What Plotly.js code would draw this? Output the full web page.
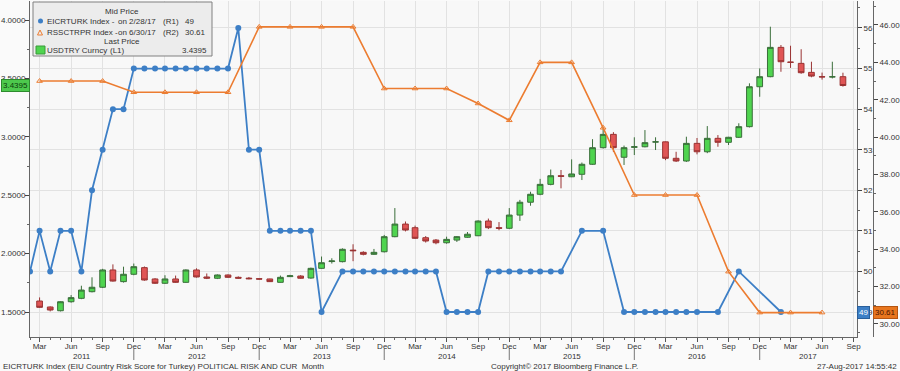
<!DOCTYPE html>
<html><head><meta charset="utf-8">
<script src="https://cdn.plot.ly/plotly-3.0.1.min.js"></script>
<style>html,body{margin:0;padding:0;background:#fafafa;overflow:hidden}</style>
</head><body><div id="chart" style="width:900px;height:371px"></div>
<script>
// ---- USDTRY Curncy monthly candles (L1) ----
const candleMonths = [
 '2011-03','2011-04','2011-05','2011-06','2011-07','2011-08','2011-09','2011-10','2011-11','2011-12',
 '2012-01','2012-02','2012-03','2012-04','2012-05','2012-06','2012-07','2012-08','2012-09','2012-10','2012-11','2012-12',
 '2013-01','2013-02','2013-03','2013-04','2013-05','2013-06','2013-07','2013-08','2013-09','2013-10','2013-11','2013-12',
 '2014-01','2014-02','2014-03','2014-04','2014-05','2014-06','2014-07','2014-08','2014-09','2014-10','2014-11','2014-12',
 '2015-01','2015-02','2015-03','2015-04','2015-05','2015-06','2015-07','2015-08','2015-09','2015-10','2015-11','2015-12',
 '2016-01','2016-02','2016-03','2016-04','2016-05','2016-06','2016-07','2016-08','2016-09','2016-10','2016-11','2016-12',
 '2017-01','2017-02','2017-03','2017-04','2017-05','2017-06','2017-07','2017-08'];
const usdOpen = [
 1.594,1.543,1.511,1.588,1.617,1.674,1.712,1.860,1.760,1.823,
 1.880,1.783,1.746,1.783,1.754,1.860,1.800,1.789,1.817,1.797,1.790,1.785,
 1.783,1.754,1.803,1.808,1.791,1.874,1.932,1.931,2.030,2.011,1.994,2.016,
 2.145,2.253,2.222,2.136,2.116,2.093,2.116,2.140,2.153,2.279,2.222,2.217,
 2.330,2.440,2.508,2.593,2.667,2.658,2.679,2.765,2.907,3.021,2.825,2.910,
 2.915,2.955,2.957,2.816,2.793,2.944,2.872,2.987,2.953,2.996,3.087,3.429,
 3.515,3.766,3.640,3.629,3.552,3.515,3.513,3.515];
const usdHigh = [
 1.625,1.548,1.592,1.645,1.725,1.797,1.870,1.908,1.888,1.915,
 1.890,1.790,1.815,1.812,1.865,1.874,1.830,1.822,1.822,1.805,1.800,1.790,
 1.785,1.812,1.818,1.815,1.880,1.975,1.960,2.045,2.080,2.020,2.040,2.160,
 2.390,2.275,2.240,2.150,2.125,2.145,2.150,2.185,2.285,2.300,2.270,2.390,
 2.460,2.530,2.640,2.720,2.716,2.807,2.780,2.980,3.081,3.040,2.925,2.996,
 3.058,2.996,2.960,2.872,3.001,2.990,3.092,3.015,3.000,3.116,3.458,3.586,
 3.943,3.786,3.780,3.750,3.643,3.550,3.643,3.549];
const usdLow = [
 1.535,1.505,1.505,1.580,1.610,1.668,1.705,1.760,1.752,1.815,
 1.768,1.740,1.740,1.750,1.750,1.795,1.782,1.782,1.792,1.785,1.780,1.776,
 1.757,1.752,1.800,1.785,1.785,1.870,1.915,1.925,1.935,1.985,1.990,2.010,
 2.140,2.190,2.125,2.095,2.080,2.085,2.100,2.135,2.150,2.210,2.200,2.210,
 2.280,2.410,2.500,2.585,2.559,2.655,2.630,2.760,2.900,2.870,2.759,2.844,
 2.910,2.887,2.800,2.785,2.785,2.850,2.860,2.915,2.930,2.990,3.080,3.343,
 3.510,3.557,3.590,3.540,3.510,3.490,3.500,3.430];
const usdClose = [
 1.540,1.517,1.588,1.623,1.688,1.712,1.860,1.765,1.823,1.888,
 1.774,1.746,1.783,1.754,1.860,1.800,1.790,1.817,1.797,1.790,1.785,1.782,
 1.760,1.797,1.810,1.789,1.874,1.922,1.937,2.037,2.025,1.994,2.011,2.145,
 2.253,2.202,2.131,2.108,2.093,2.122,2.145,2.166,2.279,2.222,2.217,2.330,
 2.440,2.508,2.593,2.667,2.662,2.682,2.765,2.907,3.021,2.907,2.907,2.915,
 2.950,2.957,2.816,2.793,2.944,2.872,2.987,2.953,2.996,3.087,3.429,3.515,
 3.766,3.643,3.638,3.549,3.520,3.513,3.514,3.4395];

// ---- EICRTURK Index (R1) ----
const eiuMonths = [
 '2011-02','2011-03','2011-04','2011-05','2011-06','2011-07','2011-08','2011-09','2011-10','2011-11','2011-12',
 '2012-01','2012-02','2012-03','2012-04','2012-05','2012-06','2012-07','2012-08','2012-09','2012-10','2012-11','2012-12',
 '2013-01','2013-02','2013-03','2013-04','2013-05','2013-06','2013-08','2013-09','2013-10','2013-11','2013-12',
 '2014-01','2014-02','2014-03','2014-04','2014-05','2014-06','2014-07','2014-08','2014-09','2014-10','2014-11','2014-12',
 '2015-01','2015-02','2015-03','2015-04','2015-05','2015-07','2015-09','2015-11','2015-12',
 '2016-01','2016-02','2016-03','2016-04','2016-05','2016-06','2016-08','2016-10','2017-02'];
const eiuScore = [
 50,51,50,51,51,50,52,53,54,54,55,
 55,55,55,55,55,55,55,55,55,56,53,53,
 51,51,51,51,51,49,50,50,50,50,50,
 50,50,50,50,50,49,49,49,49,50,50,50,
 50,50,50,50,50,51,51,49,49,
 49,49,49,49,49,49,49,50,49];

// ---- RSSCTRPR Index (R2), quarterly ----
const rssQuarters = [
 '2011-03','2011-06','2011-09','2011-12','2012-03','2012-06','2012-09','2012-12',
 '2013-03','2013-06','2013-09','2013-12','2014-03','2014-06','2014-09','2014-12',
 '2015-03','2015-06','2015-09','2015-12','2016-03','2016-06','2016-09','2016-12',
 '2017-03','2017-06'];
const rssValue = [
 43.0,43.0,43.0,42.4,42.4,42.4,42.4,45.9,
 45.9,45.9,45.9,42.6,42.6,42.6,41.8,40.9,
 44.0,44.0,40.5,36.9,36.9,36.9,32.8,30.61,
 30.61,30.61];

// ---- axis text ----
const yearSeps = ['2011-12','2012-12','2013-12','2014-12','2015-12','2016-12'];
const yearLabels = ['2011','2012','2013','2014','2015','2016','2017'];
const xRange = ['2011-02-01','2017-09-11'];

const FONT = "'Liberation Sans',Arial,sans-serif";
const BLUE = '#3d7fc6', ORANGE = '#ec7c30';
const PX = x => (x - 30) / 870;
const PY = y => (337 - y) / 336;

const traces = [
 {type:'candlestick', x:candleMonths, open:usdOpen, high:usdHigh, low:usdLow, close:usdClose,
  xaxis:'x', yaxis:'y', whiskerwidth:0, hoverinfo:'skip', showlegend:false,
  increasing:{fillcolor:'#4fd44f', line:{color:'#3a6e3a', width:1}},
  decreasing:{fillcolor:'#e05555', line:{color:'#9a3333', width:1}}},
 {type:'scatter', mode:'lines+markers', x:eiuMonths, y:eiuScore, yaxis:'y2', hoverinfo:'skip',
  line:{color:BLUE, width:1.8}, marker:{color:BLUE, size:6}, showlegend:false},
 {type:'scatter', mode:'lines+markers', x:rssQuarters, y:rssValue, yaxis:'y3', hoverinfo:'skip',
  line:{color:ORANGE, width:1.6}, marker:{color:ORANGE, size:5, symbol:'triangle-up-open', line:{width:1}}, showlegend:false}
];

const tf = {family:FONT, size:8, color:'#333'};
const shapes = [];
const annotations = [];

// year separators and year labels
yearSeps.forEach(d => shapes.push({type:'line', xref:'x', yref:'paper', x0:d, x1:d,
  y0:PY(349), y1:PY(360), line:{color:'#777', width:1}}));
const bounds = [Date.parse(xRange[0])].concat(yearSeps.map(d => Date.parse(d + '-01'))).concat([Date.parse(xRange[1])]);
yearLabels.forEach((t, i) => {
  const mid = new Date((bounds[i] + bounds[i+1]) / 2).toISOString().slice(0,10);
  annotations.push({xref:'x', yref:'paper', x:mid, y:PY(356), text:t, showarrow:false,
    xanchor:'center', yanchor:'middle', font:tf, borderpad:0});
});

// legend box
shapes.push({type:'rect', xref:'paper', yref:'paper', x0:PX(33), x1:PX(212), y0:PY(56), y1:PY(2),
  fillcolor:'#ececec', line:{color:'#808080', width:1}});
shapes.push({type:'circle', xref:'paper', yref:'paper', x0:PX(38), x1:PX(43), y0:PY(23.5), y1:PY(18.5),
  fillcolor:BLUE, line:{color:BLUE, width:0}});
shapes.push({type:'path', xref:'paper', yref:'paper',
  path:`M ${PX(37.5)},${PY(35)} L ${PX(42.5)},${PY(35)} L ${PX(40)},${PY(30)} Z`,
  line:{color:ORANGE, width:1}});
shapes.push({type:'rect', xref:'paper', yref:'paper', x0:PX(36), x1:PX(45), y0:PY(54), y1:PY(46),
  fillcolor:'#4fd44f', line:{color:'#3a9a3a', width:1}});

const lastEiu = eiuScore[eiuScore.length-1];
const lastRss = rssValue[rssValue.length-1];
const lastUsd = usdClose[usdClose.length-1];
function lt(text, x, y, anchor) {
  annotations.push({xref:'paper', yref:'paper', x:PX(x), y:PY(y), text:text, showarrow:false,
    xanchor:anchor || 'left', yanchor:'middle', font:tf, borderpad:0});
}
lt('Mid Price', 122, 12, 'center');
lt('EICRTURK Index -', 46, 21); lt('on 2/28/17', 117, 21); lt('(R1)', 162, 21); lt(String(lastEiu), 184, 21);
lt('RSSCTRPR Index -', 46, 32); lt('on 6/30/17', 117, 32); lt('(R2)', 162, 32); lt(lastRss.toFixed(2), 184, 32);
lt('Last Price', 122, 41, 'center');
lt('USDTRY Curncy', 46, 50); lt('(L1)', 109, 50); lt(lastUsd.toFixed(4), 208, 50, 'right');

// last value tags
annotations.push({xref:'paper', yref:'y', x:0, y:lastUsd, text:lastUsd.toFixed(4), showarrow:false,
  xanchor:'right', yanchor:'middle', bgcolor:'#4dc94d', bordercolor:'#2e8b2e', borderwidth:1, borderpad:1,
  font:{family:FONT, size:8, color:'#0b3d0b'}});
annotations.push({xref:'paper', yref:'y2', x:PX(857), y:lastEiu, text:String(lastEiu), showarrow:false,
  xanchor:'left', yanchor:'middle', bgcolor:BLUE, bordercolor:'#2a5f9a', borderwidth:1, borderpad:1,
  font:{family:FONT, size:8, color:'#ffffff'}});
annotations.push({xref:'paper', yref:'y3', x:PX(873), y:lastRss, text:lastRss.toFixed(2), showarrow:false,
  xanchor:'left', yanchor:'middle', bgcolor:'#e8761e', bordercolor:'#b55510', borderwidth:1, borderpad:1,
  font:{family:FONT, size:8, color:'#4a1500'}});

// footer
const ff = {family:FONT, size:8, color:'#333'};
annotations.push({xref:'paper', yref:'paper', x:PX(2), y:PY(366), xanchor:'left', yanchor:'middle', showarrow:false,
  text:'EICRTURK Index (EIU Country Risk Score for Turkey) POLITICAL RISK AND CUR  Month', font:ff, borderpad:0});
annotations.push({xref:'paper', yref:'paper', x:PX(490), y:PY(366), xanchor:'left', yanchor:'middle', showarrow:false,
  text:'Copyright© 2017 Bloomberg Finance L.P.', font:ff, borderpad:0});
annotations.push({xref:'paper', yref:'paper', x:PX(898), y:PY(366), xanchor:'right', yanchor:'middle', showarrow:false,
  text:'27-Aug-2017 14:55:42', font:ff, borderpad:0});

const layout = {
  width:900, height:371, margin:{l:30, r:0, t:1, b:34},
  paper_bgcolor:'#fafafa', plot_bgcolor:'#f8f8f8', showlegend:false, dragmode:false,
  font:{family:FONT, size:8, color:'#333'},
  xaxis:{type:'date', domain:[0, 827/870], range:xRange, rangeslider:{visible:false},
    tickmode:'linear', tick0:'2011-03-01', dtick:'M3', tickformat:'%b',
    ticks:'outside', ticklen:4, tickcolor:'#555', tickfont:tf, ticklabelstandoff:-3,
    showgrid:true, gridcolor:'#e2e2e2', gridwidth:1, showline:true, linecolor:'#666', zeroline:false,
    minor:{tick0:'2011-02-01', dtick:'M1', ticks:'outside', ticklen:2, tickcolor:'#666', showgrid:false}},
  yaxis:{range:[1.286, 4.163], side:'left', tick0:0, dtick:0.5, tickformat:'.4f',
    ticks:'outside', ticklen:4, tickcolor:'#444', tickfont:tf, ticklabelstandoff:-2, showgrid:false, zeroline:false,
    showline:true, linecolor:'#666',
    minor:{dtick:0.25, ticks:'outside', ticklen:2, tickcolor:'#666', showgrid:false}},
  yaxis2:{overlaying:'y', side:'right', anchor:'x', range:[48.384, 56.665], tick0:0, dtick:1,
    ticks:'outside', ticklen:4, tickcolor:'#444', tickfont:tf, showgrid:true, gridcolor:'#e2e2e2',
    zeroline:false, showline:true, linecolor:'#666',
    minor:{dtick:0.5, ticks:'outside', ticklen:2, tickcolor:'#666', showgrid:false}},
  yaxis3:{overlaying:'y', side:'right', anchor:'free', position:843/870, range:[29.304, 47.284],
    tick0:0, dtick:2, tickformat:'.2f', ticks:'outside', ticklen:4, tickcolor:'#444', tickfont:tf,
    showgrid:false, zeroline:false, showline:true, linecolor:'#666',
    minor:{dtick:1, ticks:'outside', ticklen:2, tickcolor:'#666', showgrid:false}},
  boxgap:0.15,
  shapes:shapes, annotations:annotations
};
Plotly.newPlot('chart', traces, layout, {staticPlot:true, displayModeBar:false});
</script>
</body></html>
